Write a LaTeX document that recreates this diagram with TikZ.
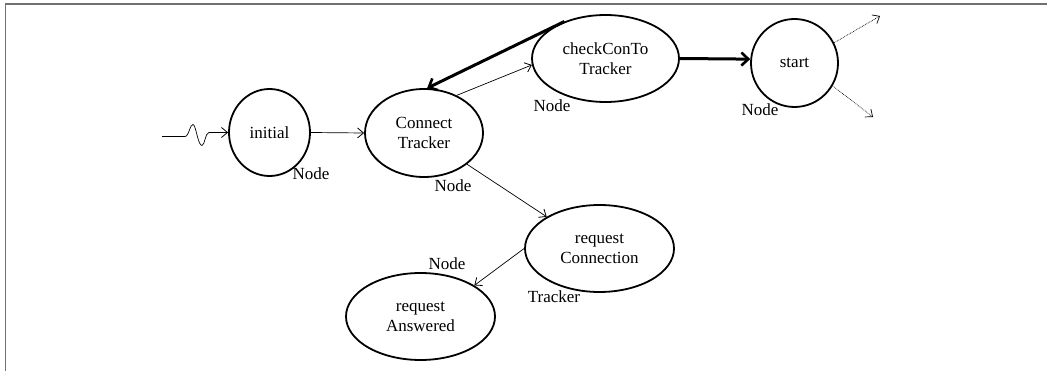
\documentclass[tikz,border=0pt]{standalone}
\usepackage{fontspec}
\setmainfont{Liberation Serif}
\usetikzlibrary{shapes.geometric,arrows.meta}
\definecolor{framegray}{RGB}{112,112,112}
\tikzset{
  state/.style={ellipse, draw, line width=1.8pt, inner sep=0pt, align=center, font=\fontsize{17}{20}\selectfont},
  lbl/.style={inner sep=0pt, font=\fontsize{17}{20}\selectfont},
  thin/.style={-{Straight Barb[length=6pt,width=10pt,line width=0.8pt]}, line width=0.7pt},
  thick/.style={-{Straight Barb[length=7pt,width=13pt,line width=2.6pt]}, line width=3pt},
  dotarrow/.style={-{Straight Barb[length=6pt,width=10pt,line width=0.7pt]}, line width=0.7pt, densely dotted},
}
\begin{document}
\begin{tikzpicture}[x=1pt,y=-1pt]
\useasboundingbox (0,0) rectangle (1047,371);
\draw[framegray, line width=1.4pt] (5.7,371) -- (5.7,4) -- (1047,4);

\node[state, minimum width=81pt, minimum height=87pt] (in) at (269.5,132.5) {initial};
\node[state, minimum width=118pt, minimum height=88pt] (ct) at (424,133) {Connect\\Tracker};
\node[state, minimum width=147pt, minimum height=87pt] (cc) at (605.5,58.5) {checkConTo\\Tracker};
\node[state, minimum width=87pt, minimum height=88pt] (st) at (794.5,63) {start};
\node[state, minimum width=149pt, minimum height=87pt] (rc) at (599.5,248.5) {request\\Connection};
\node[state, minimum width=149pt, minimum height=87pt] (ra) at (420.5,316.5) {request\\Answered};

\node[lbl] (l1) at (311,174) {Node};
\node[lbl] (l2) at (453,186) {Node};
\node[lbl] (l3) at (552,106) {Node};
\node[lbl] (l4) at (760,110) {Node};
\node[lbl] (l5) at (447,264) {Node};
\node[lbl] (l6) at (554,297) {Tracker};

\coordinate (sq) at (162,136.5);
\coordinate (d1) at (880,16);
\coordinate (d2) at (873,117);

\draw[thin] (sq) -- (185,136.5) .. controls (189,136.5) and (190,124) .. (193,124.5)
  .. controls (196,125) and (198,146) .. (202,145.5)
  .. controls (205,145) and (205,133) .. (209,132.5) -- (in.west);
\draw[thin] (in.east) -- (ct.west);
\draw[thin] (ct.49) -- (cc.185);
\draw[thick] (cc.138) -- (ct.86);
\draw[thick] (cc.east) -- (st.175);
\draw[dotarrow] (st.27) -- (d1);
\draw[dotarrow] (st.-31) -- (d2);
\draw[thin] (ct.-36) -- (rc.149);
\draw[thin] (rc.180) -- (ra.30);
\end{tikzpicture}
\end{document}
